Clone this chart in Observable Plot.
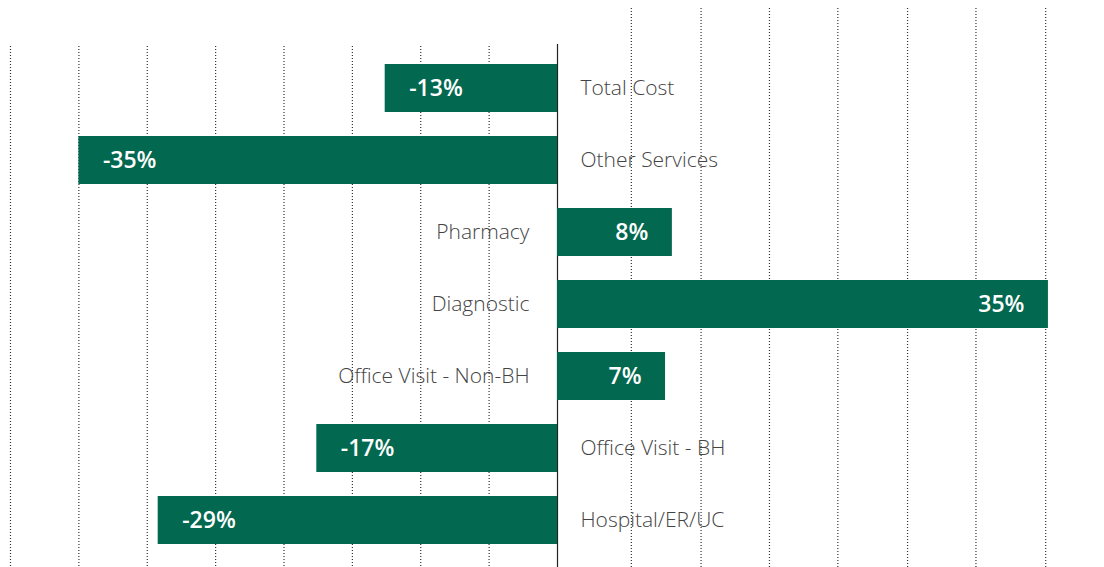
<!DOCTYPE html>
<html>
<head>
<meta charset="utf-8">
<script src="https://cdn.jsdelivr.net/npm/d3@7"></script>
<script src="https://cdn.jsdelivr.net/npm/@observablehq/plot@0.6"></script>
<style>
  html, body { margin: 0; padding: 0; background: #fff; }
  svg { display: block; }
</style>
</head>
<body>
<div id="chart"></div>
<script>
const categories = ["Total Cost", "Other Services", "Pharmacy", "Diagnostic", "Office Visit - Non-BH", "Office Visit - BH", "Hospital/ER/UC"];
const values = [-12.6, -35, 8.4, 35.9, 7.9, -17.6, -29.2];
const valueLabels = ["-13%", "-35%", "8%", "35%", "7%", "-17%", "-29%"];
const gridLeft = [-40, -35, -30, -25, -20, -15, -10, -5];
const gridRight = [5.4, 10.5, 15.5, 20.5, 25.6, 30.6, 35.7];

const data = categories.map((c, i) => ({category: c, value: values[i], label: valueLabels[i]}));
const neg = data.filter(d => d.value < 0);
const pos = data.filter(d => d.value >= 0);

const green = "#02684f";
const font = "'Open Sans', sans-serif";

const chart = Plot.plot({
  width: 1104,
  height: 567,
  marginTop: 0, marginBottom: 0, marginLeft: 0, marginRight: 0,
  style: {fontFamily: font, background: "#fff"},
  x: {domain: [-40, 40], range: [10, 1104], axis: null},
  y: {domain: categories, range: [52, 556], paddingInner: 1/3, paddingOuter: 1/6, axis: null},
  marks: [
    Plot.ruleX(gridLeft, {stroke: "#333", strokeWidth: 1.2, strokeDasharray: "1,2", insetTop: 46}),
    Plot.ruleX(gridRight, {stroke: "#333", strokeWidth: 1.2, strokeDasharray: "1,2", insetTop: 8}),
    Plot.ruleX([0], {stroke: "#222", strokeWidth: 1.2, insetTop: 44}),
    Plot.barX(data, {x1: 0, x2: "value", y: "category", fill: green}),
    Plot.text(neg, {x: "value", y: "category", text: "label", textAnchor: "start", dx: 24, fill: "#fff", fontSize: 23, fontWeight: 600}),
    Plot.text(pos, {x: "value", y: "category", text: "label", textAnchor: "end", dx: -24, fill: "#fff", fontSize: 23, fontWeight: 600}),
    Plot.text(neg, {x: 0, y: "category", text: "category", textAnchor: "start", dx: 23, fill: "#444", fontSize: 21, fontWeight: 300}),
    Plot.text(pos, {x: 0, y: "category", text: "category", textAnchor: "end", dx: -28, fill: "#444", fontSize: 21, fontWeight: 300})
  ]
});
document.getElementById("chart").appendChild(chart);
</script>
</body>
</html>
